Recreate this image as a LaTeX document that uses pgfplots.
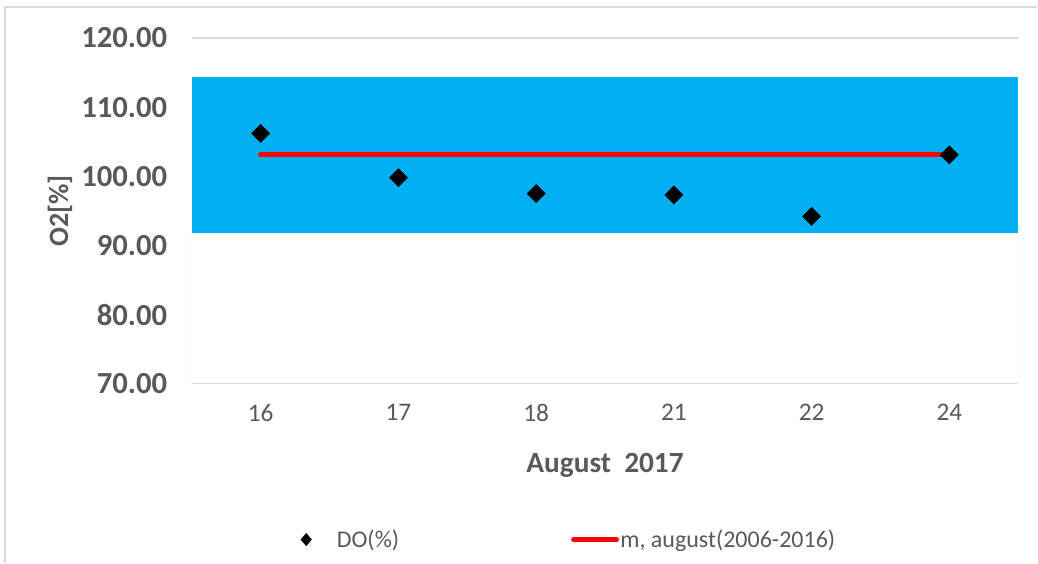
\documentclass[border=0pt]{standalone}
\usepackage{fontspec}
\setmainfont{Carlito}
\usepackage{pgfplots}
\pgfplotsset{compat=1.18}
\definecolor{band}{HTML}{00B0F0}
\definecolor{txt}{HTML}{595959}
\definecolor{grd}{HTML}{D9D9D9}
\definecolor{sideln}{HTML}{C5ECFB}
\begin{document}
\begin{tikzpicture}
\begin{axis}[
  name=ax,
  scale only axis, width=620.25pt, height=259.5pt,
  xmin=-0.5, xmax=5.5, ymin=70, ymax=120,
  separate axis lines,
  x axis line style={draw=grd, line width=1pt},
  y axis line style={draw=none},
  xtick={0,...,5}, xticklabels={16,17,18,21,22,24},
  ytick={70,80,...,120},
  major tick length=0pt,
  xtick pos=bottom, ytick pos=left,
  ytick style={draw=none},
  xtick style={draw=none},
  extra x ticks={-0.5,0.5,1.5,2.5,3.5,4.5,5.5},
  extra x tick labels={},
  extra x tick style={major tick length=6pt, tick align=outside, tick style={draw=grd, line width=1pt}},
  y tick label style={/pgf/number format/fixed, /pgf/number format/fixed zerofill, /pgf/number format/precision=2, /pgf/number format/assume math mode=true, font=\fontsize{23}{25}\selectfont\bfseries, text=txt, xshift=-15pt},
  x tick label style={font=\fontsize{19}{21}\selectfont, text=txt, anchor=center, yshift=-21.75pt},
  xlabel={August\ \ 2017},
  every axis x label/.style={at={(axis description cs:0.5,0)}, anchor=center, yshift=-61.5pt, font=\fontsize{22}{24}\selectfont\bfseries, text=txt},
  ylabel={O2[\%]},
  every axis y label/.style={at={(axis description cs:0,0.5)}, xshift=-99pt, rotate=90, anchor=center, font=\fontsize{21}{23}\selectfont\bfseries, text=txt},
  legend columns=2,
  legend style={draw=none, fill=none, at={(axis description cs:0,0)}, anchor=west, xshift=81.75pt, yshift=-117pt, font=\fontsize{18}{20}\selectfont, text=txt, inner sep=0pt, outer sep=0pt, nodes={inner xsep=1pt, inner ysep=0pt}, /tikz/every even column/.append style={column sep=128pt}},
]
\addplot[forget plot, draw=none, fill=band] coordinates {(-0.5,91.8) (5.5,91.8) (5.5,114.4) (-0.5,114.4)};
\addplot[forget plot, sideln, line width=0.6pt] coordinates {(-0.5,70) (-0.5,91.8)};
\addplot[forget plot, sideln, line width=0.6pt] coordinates {(5.5,70) (5.5,91.8)};
\addplot[only marks, mark=square*, mark size=4.8pt, mark options={rotate=45, fill=black, draw=black},
  legend image code/.code={\path[draw=none, fill=none] (-4pt,0pt) -- (22pt,0pt); \fill[black] (0pt,4.6pt) -- (3.9pt,0pt) -- (0pt,-4.6pt) -- (-3.9pt,0pt) -- cycle;}]
  coordinates {(0,106.2) (1,99.8) (2,97.5) (3,97.3) (4,94.2) (5,103.1)};
\addplot[red, line width=4pt, line cap=round,
  legend image code/.code={\draw[red, line width=4pt, line cap=round] (0pt,0pt) -- (32pt,0pt);}]
  coordinates {(0,103.1) (5,103.1)};
\legend{DO(\%), {m, august(2006-2016)}}
\coordinate (NW) at (rel axis cs:0,1);
\end{axis}
\path (NW) ++(-144pt,28.5pt) coordinate (A);
\path (NW) ++(634.5pt,-393.75pt) coordinate (B);
\path (A) rectangle (B);
\draw[grd, line width=1.2pt] (NW) ++(634.5pt,23.25pt) -- ++(-774.75pt,0pt) -- ++(0pt,-417pt);
\end{tikzpicture}
\end{document}
